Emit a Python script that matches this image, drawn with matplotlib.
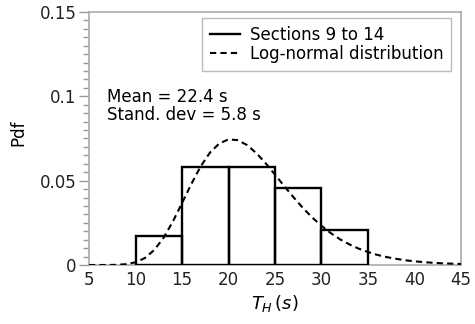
import matplotlib
matplotlib.use("Agg")
import matplotlib.pyplot as plt
from matplotlib.ticker import MultipleLocator

plt.rcParams['font.family'] = ['DejaVu Sans']
plt.rcParams['mathtext.fontset'] = 'dejavusans'

# Histogram (Sections 9 to 14)
bin_edges = [10, 15, 20, 25, 30, 35]
bin_pdf = [0.0174, 0.0579, 0.0579, 0.0455, 0.0207]

# Log-normal distribution curve
curve_x = [5, 6, 7, 8, 9, 10, 11, 12, 13, 14, 15, 16, 17, 18, 19, 20, 21, 22, 23,
           24, 25, 26, 27, 28, 29, 30, 31, 32, 33, 34, 35, 36, 37, 38, 39, 40,
           41, 42, 43, 44, 45]
curve_y = [0.0, 0.0, 0.0, 0.0001, 0.0005, 0.0016, 0.0041, 0.0088, 0.0160, 0.0256,
           0.0367, 0.0480, 0.0584, 0.0666, 0.0720, 0.0745, 0.0740, 0.0711, 0.0663,
           0.0603, 0.0536, 0.0467, 0.0401, 0.0338, 0.0282, 0.0232, 0.0189, 0.0152,
           0.0122, 0.0097, 0.0077, 0.0060, 0.0047, 0.0037, 0.0028, 0.0022,
           0.0017, 0.0013, 0.0010, 0.0008, 0.0006]

x_ticks = [5, 10, 15, 20, 25, 30, 35, 40, 45]
y_ticks = [0, 0.05, 0.1, 0.15]
y_tick_labels = ["0", "0.05", "0.1", "0.15"]

FS = 12

fig = plt.figure(figsize=(4.75, 3.24), dpi=100)
ax = fig.add_axes([0.1874, 0.1821, 0.9705 - 0.1874, 0.963 - 0.1821])

widths = [bin_edges[i + 1] - bin_edges[i] for i in range(len(bin_pdf))]
ax.bar(bin_edges[:-1], bin_pdf, width=widths, align='edge', fill=False,
       edgecolor='black', linewidth=1.7, zorder=3)
ax.plot([], [], color='black', lw=1.7, label='Sections 9 to 14')
ax.plot(curve_x, curve_y, color='black', lw=1.5, linestyle=(0, (3, 2)),
        label='Log-normal distribution', zorder=4)

ax.set_xlim(5, 45)
ax.set_ylim(0, 0.15)
ax.set_xticks(x_ticks)
ax.set_yticks(y_ticks)
ax.set_yticklabels(y_tick_labels)
ax.yaxis.set_minor_locator(MultipleLocator(0.005))
ax.tick_params(axis='x', length=0, pad=4, labelsize=FS, colors='#222222')
ax.tick_params(axis='y', which='major', length=7, width=1, color='#999999',
               labelsize=FS, labelcolor='#222222', pad=2)
ax.tick_params(axis='y', which='minor', length=4, width=1, color='#999999')

for s in ax.spines.values():
    s.set_color('#aaaaaa')
    s.set_linewidth(1.2)

ax.set_ylabel('Pdf', fontsize=FS)
ax.yaxis.set_label_coords(-0.167, 0.522)
ax.set_xlabel(r'$T_H\,(s)$', fontsize=13, labelpad=3)

ax.text(6.9, 0.0966, 'Mean = 22.4 s', fontsize=FS, va='baseline', ha='left')
ax.text(6.9, 0.0858, 'Stand. dev = 5.8 s', fontsize=FS, va='baseline', ha='left')

leg = ax.legend(loc='upper right', bbox_to_anchor=(0.973, 0.976), fontsize=FS,
                frameon=True, fancybox=False, edgecolor='#aaaaaa',
                handlelength=1.8, borderpad=0.45, labelspacing=0.1,
                handletextpad=0.6, borderaxespad=0)
leg.get_frame().set_linewidth(1.0)

fig.savefig('out.png', dpi=100)
